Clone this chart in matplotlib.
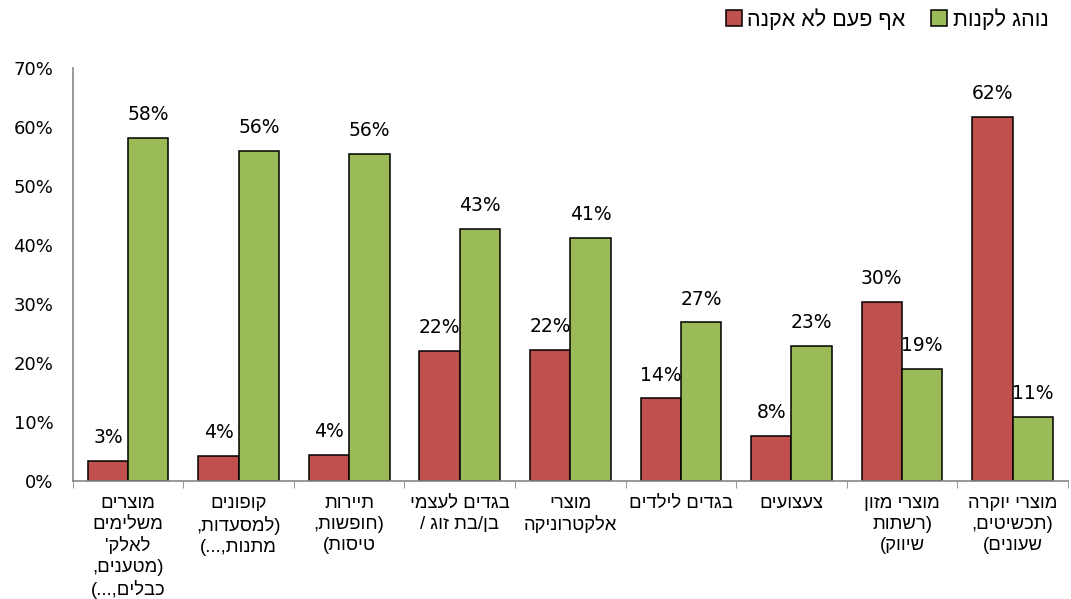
import matplotlib
matplotlib.use("Agg")
import matplotlib.pyplot as plt
import numpy as np

# categories (logical Hebrew order, explicit line breaks as in the chart)
categories = [
    "מוצרים\nמשלימים\nלאלק'\n(מטענים,\nכבלים,...)",
    "קופונים\n(למסעדות,\nמתנות,...)",
    "תיירות\n(חופשות,\nטיסות)",
    "בגדים לעצמי\nבן/בת זוג /",
    "מוצרי\nאלקטרוניקה",
    "בגדים לילדים",
    "צעצועים",
    "מוצרי מזון\n(רשתות\nשיווק)",
    "מוצרי יוקרה\n(תכשיטים,\nשעונים)",
]
never_buy = [0.034, 0.042, 0.044, 0.221, 0.223, 0.140, 0.076, 0.303, 0.618]
usually_buy = [0.582, 0.560, 0.555, 0.428, 0.412, 0.269, 0.229, 0.190, 0.108]
series_names = ["אף פעם לא אקנה", "נוהג לקנות"]
yticks = [0, 0.1, 0.2, 0.3, 0.4, 0.5, 0.6, 0.7]

RED = "#C0504D"
GREEN = "#9BBB59"
HEB = ["Liberation Sans", "DejaVu Sans"]
NUM = ["DejaVu Sans"]


def rtl(s):
    # matplotlib has no bidi support: reverse each line and mirror brackets
    swap = {"(": ")", ")": "("}
    out = []
    for line in s.split("\n"):
        out.append("".join(swap.get(c, c) for c in reversed(line)))
    return "\n".join(out)


fig = plt.figure(figsize=(10.71, 5.99), dpi=100)
ax = fig.add_axes([0.068, 0.197, 0.929, 0.689])

x = np.arange(len(categories))
w = 0.365
b1 = ax.bar(x - w / 2, never_buy, w, color=RED, edgecolor="black", linewidth=1.1,
            label=rtl(series_names[0]))
b2 = ax.bar(x + w / 2, usually_buy, w, color=GREEN, edgecolor="black", linewidth=1.1,
            label=rtl(series_names[1]))

for bars in (b1, b2):
    for r in bars:
        v = r.get_height()
        ax.annotate(f"{round(v * 100):.0f}%", (r.get_x() + r.get_width() / 2, v),
                    xytext=(0, 10), textcoords="offset points", ha="center", va="bottom",
                    fontsize=13.5, family=NUM)

ax.set_xlim(-0.5, len(categories) - 0.5)
ax.set_ylim(0, 0.7)
ax.set_yticks(yticks)
ax.set_yticklabels([f"{int(round(t * 100))}%" for t in yticks], family=NUM, fontsize=13)
ax.tick_params(axis="y", length=0, pad=14)

ax.set_xticks(x)
ax.set_xticklabels([rtl(c) for c in categories], family=HEB, fontsize=13.3,
                   linespacing=1.3, va="top")
ax.set_xticks(np.arange(len(categories) + 1) - 0.5, minor=True)
ax.tick_params(axis="x", which="major", length=0, pad=10)
ax.tick_params(axis="x", which="minor", length=5, color="#868686")

for s in ("top", "right"):
    ax.spines[s].set_visible(False)
for s in ("left", "bottom"):
    ax.spines[s].set_color("#868686")
    ax.spines[s].set_linewidth(1.2)

leg = ax.legend(loc="upper right", bbox_to_anchor=(0.997, 1.017), bbox_transform=fig.transFigure,
                ncol=2, frameon=False, prop={"family": HEB, "size": 15.5},
                handlelength=0.75, handleheight=0.75, handletextpad=0.25, columnspacing=1.2)

fig.savefig("out.png", dpi=100)
